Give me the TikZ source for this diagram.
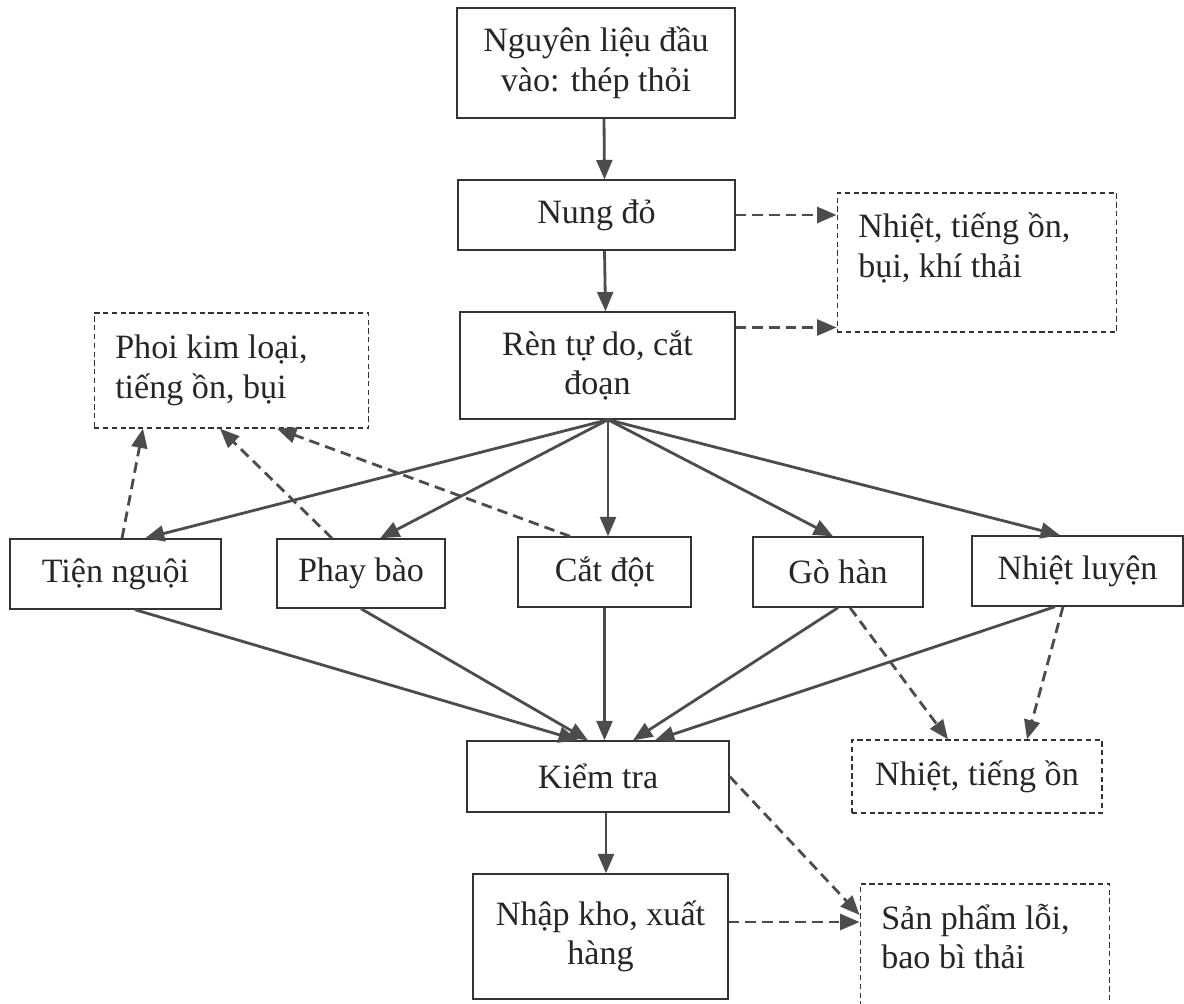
\documentclass[tikz,border=0pt]{standalone}
\usepackage{fontspec}
\setmainfont{Liberation Serif}
\usetikzlibrary{arrows.meta}

\begin{document}
\begin{tikzpicture}[
		stage/.style={draw=black!80, line width=0.8pt, align=center, inner sep=2pt,
			font=\fontsize{19.4}{22.5}\selectfont, text=black!85},
		waste/.style={draw=black!80, line width=0.7pt, dash pattern=on 3pt off 2pt,
			align=flush left, inner xsep=12pt, inner ysep=2pt,
			font=\fontsize{19.4}{22.5}\selectfont, text=black!85},
		flow/.style={line width=1.6pt, draw=black!70,
			-{Triangle[length=11pt, width=9pt]}, color=black!70},
		leak/.style={flow, dash pattern=on 6pt off 3.5pt}
	]
		\useasboundingbox (0, 0) rectangle (23.68, -20.06);

		% main line
		\node[stage, minimum width=5.56cm, minimum height=2.20cm] (input) at (11.92, -1.26) {Nguyên liệu đầu\\ vào: thép thỏi};
		\node[stage, minimum width=5.54cm, minimum height=1.40cm] (nungdo) at (11.93, -4.30) {Nung đỏ};
		\node[stage, minimum width=5.50cm, minimum height=2.14cm] (ren) at (11.95, -7.31) {Rèn tự do, cắt\\ đoạn};

		\node[stage, minimum width=4.22cm, minimum height=1.40cm] (tien) at (2.31, -11.48) {Tiện nguội};
		\node[stage, minimum width=3.36cm, minimum height=1.38cm] (phay) at (7.22, -11.47) {Phay bào};
		\node[stage, minimum width=3.46cm, minimum height=1.40cm] (catdot) at (12.09, -11.44) {Cắt đột};
		\node[stage, minimum width=3.40cm, minimum height=1.40cm] (gohan) at (16.76, -11.44) {Gò hàn};
		\node[stage, minimum width=4.22cm, minimum height=1.40cm] (nhietluyen) at (21.55, -11.42) {Nhiệt luyện};

		\node[stage, minimum width=5.24cm, minimum height=1.42cm] (kiemtra) at (11.96, -15.53) {Kiểm tra};
		\node[stage, minimum width=5.10cm, minimum height=2.50cm] (nhapkho) at (12.01, -18.73) {Nhập kho, xuất\\ hàng};

		% waste boxes
		\node[waste, text width=4.75cm, minimum height=2.78cm] (khithai) at (19.54, -5.25) {Nhiệt, tiếng ồn,\\ bụi, khí thải\\[-3pt]\mbox{}};
		\node[waste, text width=4.65cm, minimum height=2.30cm] (phoi) at (4.63, -7.41) {Phoi kim loại,\\ tiếng ồn, bụi};
		\node[waste, align=center, minimum width=5.00cm, minimum height=1.46cm] (tiengon) at (19.54, -15.53) {Nhiệt, tiếng ồn};
		\node[waste, text width=4.15cm, minimum height=2.78cm] (sanpham) at (19.70, -19.07) {Sản phẩm lỗi,\\ bao bì thải\\[-3pt]\mbox{}};

		\coordinate (renfoot) at ([xshift=0.21cm]ren.south);
		\coordinate (renout) at ([yshift=0.76cm]ren.east);
		\coordinate (nhapout) at ([yshift=0.29cm]nhapkho.east);

		\draw[flow] ([xshift=0.16cm]input.south) -- ([xshift=0.16cm]nungdo.north);
		\draw[flow] ([xshift=0.16cm]nungdo.south) -- ([xshift=0.16cm]ren.north);
		\draw[leak] (nungdo.east) -- (nungdo.east -| khithai.west);
		\draw[leak] (renout) -- (renout -| khithai.west);

		\draw[flow] (renfoot) -- ([xshift=0.59cm]tien.north);
		\draw[flow] (renfoot) -- ([xshift=0.38cm]phay.north);
		\draw[flow] (renfoot) -- (renfoot |- catdot.north);
		\draw[flow] (renfoot) -- ([xshift=-0.10cm]gohan.north);
		\draw[flow] (renfoot) -- ([xshift=-0.35cm]nhietluyen.north);

		\draw[leak] ([xshift=0.13cm]tien.north) -- ([xshift=-1.77cm]phoi.south);
		\draw[leak] ([xshift=-0.58cm]phay.north) -- ([xshift=-0.23cm]phoi.south);
		\draw[leak] ([xshift=-0.69cm]catdot.north) -- ([xshift=0.91cm]phoi.south);

		\draw[flow] ([xshift=0.39cm]tien.south) -- ([xshift=-0.40cm]kiemtra.north);
		\draw[flow] (phay.south) -- ([xshift=-0.20cm]kiemtra.north);
		\draw[flow] (catdot.south) -- (catdot.south |- kiemtra.north);
		\draw[flow] (gohan.south) -- ([xshift=0.70cm]kiemtra.north);
		\draw[flow] ([xshift=-0.45cm]nhietluyen.south) -- ([xshift=1.14cm]kiemtra.north);

		\draw[leak] ([xshift=0.24cm]gohan.south) -- ([xshift=-0.58cm]tiengon.north);
		\draw[leak] ([xshift=-0.29cm]nhietluyen.south) -- ([xshift=1.00cm]tiengon.north);

		\draw[flow] ([xshift=0.16cm]kiemtra.south) -- ([xshift=0.16cm]kiemtra.south |- nhapkho.north);
		\draw[leak] (kiemtra.east) -- ([yshift=0.77cm]sanpham.west);
		\draw[leak] (nhapout) -- (nhapout -| sanpham.west);
	\end{tikzpicture}
\end{document}
